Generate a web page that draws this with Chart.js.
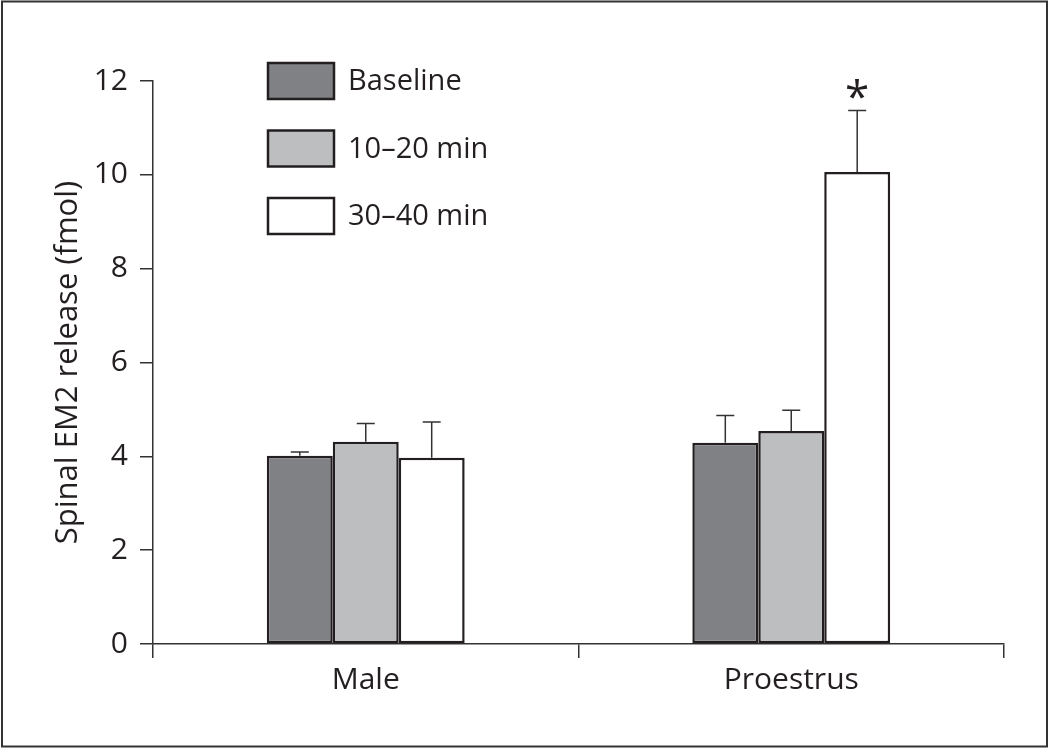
<!DOCTYPE html>
<html>
<head>
<meta charset="utf-8">
<script src="https://cdn.jsdelivr.net/npm/chart.js@4.4.0/dist/chart.umd.min.js"></script>
<style>
  body { margin: 0; background: #fff; }
</style>
</head>
<body>
<canvas id="chart" width="1050" height="750"></canvas>
<script>
const categories = ["Male", "Proestrus"];
const seriesLabels = ["Baseline", "10–20 min", "30–40 min"];
const baselineValues = [4.01, 4.29];
const min10to20Values = [4.31, 4.54];
const min30to40Values = [3.97, 10.06];
const baselineErrors = [0.08, 0.58];
const min10to20Errors = [0.39, 0.44];
const min30to40Errors = [0.76, 1.31];
const yTicks = [0, 2, 4, 6, 8, 10, 12];
// [dataset index, category index] of the bars marked with an asterisk
const significantBars = [[2, 1]];

const FONT = "'Open Sans', 'Noto Sans', sans-serif";
const INK = "#231f20";
const AXIS = "#333333";
const fills = ["#808184", "#bcbec0", "#ffffff"];
const errors = [baselineErrors, min10to20Errors, min30to40Errors];

const errorBars = {
    id: "errorBars",
    afterDatasetsDraw(chart) {
        const ctx = chart.ctx;
        const yScale = chart.scales.y;
        ctx.save();
        ctx.strokeStyle = AXIS;
        ctx.lineWidth = 1.5;
        chart.data.datasets.forEach((ds, di) => {
            const meta = chart.getDatasetMeta(di);
            meta.data.forEach((bar, i) => {
                const top = yScale.getPixelForValue(ds.data[i] + errors[di][i]);
                ctx.beginPath();
                ctx.moveTo(bar.x, bar.y);
                ctx.lineTo(bar.x, top);
                ctx.moveTo(bar.x - 9, top);
                ctx.lineTo(bar.x + 9, top);
                ctx.stroke();
            });
        });
        ctx.fillStyle = INK;
        ctx.font = "44px " + FONT;
        ctx.textAlign = "center";
        ctx.textBaseline = "alphabetic";
        significantBars.forEach(([di, i]) => {
            const bar = chart.getDatasetMeta(di).data[i];
            const v = chart.data.datasets[di].data[i] + errors[di][i];
            const top = yScale.getPixelForValue(v);
            ctx.fillText("*", bar.x, top + 1);
        });
        ctx.restore();
    }
};

const boxLegend = {
    id: "boxLegend",
    afterDraw(chart) {
        const ctx = chart.ctx;
        ctx.save();
        ctx.font = "29px " + FONT;
        ctx.textBaseline = "middle";
        ctx.textAlign = "left";
        chart.data.datasets.forEach((ds, di) => {
            const y = 63 + di * 67.5;
            ctx.fillStyle = ds.backgroundColor;
            ctx.fillRect(268, y, 66, 36);
            ctx.strokeStyle = INK;
            ctx.lineWidth = 2.5;
            ctx.strokeRect(268, y, 66, 36);
            ctx.fillStyle = INK;
            ctx.fillText(ds.label, 348, y + 19);
        });
        // outer frame of the figure
        ctx.strokeStyle = AXIS;
        ctx.lineWidth = 2;
        ctx.strokeRect(2, 1.5, 1045, 745);
        ctx.restore();
    }
};

new Chart(document.getElementById("chart"), {
    type: "bar",
    data: {
        labels: categories,
        datasets: [baselineValues, min10to20Values, min30to40Values].map((vals, di) => ({
            label: seriesLabels[di],
            data: vals,
            backgroundColor: fills[di],
            borderColor: INK,
            borderWidth: 2.5,
            borderSkipped: false,
            categoryPercentage: 0.465,
            barPercentage: 1.0
        }))
    },
    options: {
        responsive: false,
        animation: false,
        layout: { padding: { left: 0, right: 46, top: 81, bottom: 0 } },
        plugins: {
            legend: { display: false },
            tooltip: { enabled: false }
        },
        scales: {
            x: {
                afterFit(s) { s.height = 106; },
                grid: {
                    offset: true,
                    drawOnChartArea: false,
                    tickLength: 14,
                    color: AXIS,
                    lineWidth: 1.5
                },
                border: { display: true, color: AXIS, width: 1.5 },
                ticks: {
                    color: INK,
                    padding: 4,
                    font: { family: FONT, size: 30 }
                }
            },
            y: {
                min: 0,
                max: 12,
                afterFit(s) { s.width = 153; },
                afterBuildTicks(s) { s.ticks = yTicks.map(v => ({ value: v })); },
                grid: {
                    drawOnChartArea: false,
                    tickLength: 13,
                    color: AXIS,
                    lineWidth: 1.5
                },
                border: { display: true, color: AXIS, width: 1.5 },
                ticks: {
                    color: INK,
                    padding: 12,
                    font: { family: FONT, size: 30 }
                },
                title: {
                    display: true,
                    text: "Spinal EM2 release (fmol)",
                    color: INK,
                    padding: { top: 50, bottom: 0 },
                    font: { family: FONT, size: 31 }
                }
            }
        }
    },
    plugins: [errorBars, boxLegend]
});
</script>
</body>
</html>
